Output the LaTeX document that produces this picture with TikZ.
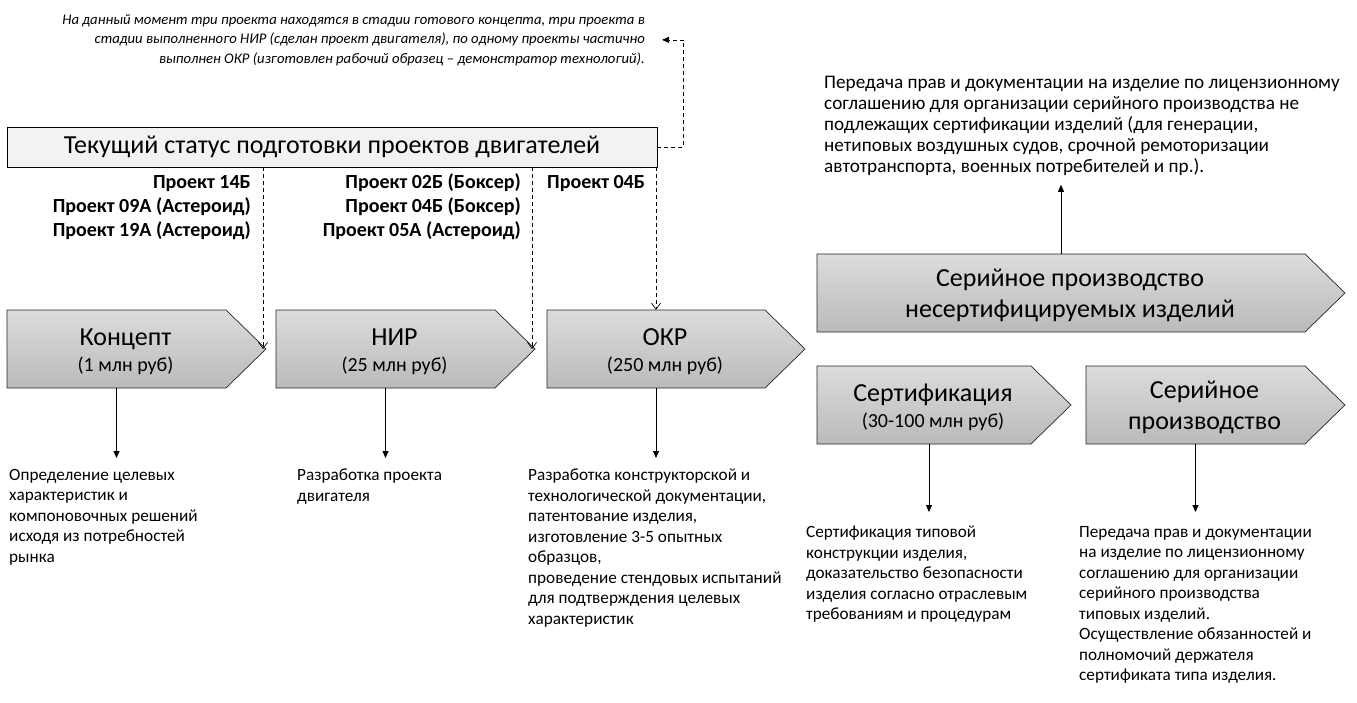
\documentclass[tikz,border=0pt]{standalone}
\usepackage{fontspec}
\setmainfont{Carlito}
\usetikzlibrary{arrows.meta}

\definecolor{stagetop}{RGB}{220,220,220}
\definecolor{stagebot}{RGB}{186,186,186}
\definecolor{statusfill}{RGB}{242,242,242}

\newcommand{\cost}[1]{{\fontsize{20}{22}\selectfont #1}}
\newcommand{\stagebox}[5]{%
  \draw[stage] (#2,#4) -- (#3,#4) -- ({#3+40},{#4+39}) -- ({#3},{#4+78}) -- ({#2},{#4+78}) -- cycle;
  \node[stagebody, minimum width={(#3-#2)*1pt}] (#1) at ({(#2+#3)/2},{#4+39}) {};
  \coordinate (#1-tip) at ({#3+40},{#4+39});
  \node[stagetext] (#1-t) at ([xshift=9pt, yshift=-2.5pt]#1.center) {#5};
}

\begin{document}
\begin{tikzpicture}[x=1pt, y=-1pt,
    stage/.style={draw=black!85, line width=0.7pt, top color=stagetop, bottom color=stagebot},
    stagebody/.style={inner sep=0pt, minimum height=78pt},
    stagetext/.style={align=center, inner sep=0pt, font=\fontsize{26}{31}\selectfont},
    desc/.style={align=left, inner sep=0pt, anchor=north west, font=\fontsize{17.2}{20.5}\selectfont},
    proj/.style={align=right, inner sep=0pt, font=\bfseries\fontsize{20}{24}\selectfont},
    down/.style={-{Triangle[width=6pt,length=7pt]}, line width=0.8pt, shorten >=11pt},
    dashline/.style={dashed, dash pattern=on 4pt off 3pt, line width=0.7pt},
    dasharrow/.style={dashline, -{Straight Barb[length=6pt,width=9pt]}}]
  \useasboundingbox (0,0) rectangle (1357,703);

  \node[align=right, inner sep=0pt, anchor=north east, font=\itshape\fontsize{14.7}{19.5}\selectfont] (note) at (645,14)
    {На данный момент три проекта находятся в стадии готового концепта, три проекта в\\
     стадии выполненного НИР (сделан проект двигателя), по одному проекты частично\\
     выполнен ОКР (изготовлен рабочий образец -- демонстратор технологий).};

  \node[draw=black, line width=0.8pt, fill=statusfill, minimum width=650pt, minimum height=40pt,
        font=\fontsize{26}{30}\selectfont] (status) at (332,147) {Текущий статус подготовки проектов двигателей};
  \draw[dashline, -{Triangle[width=6pt,length=7pt]}] (status.east) -- ++(26,0) |- ([xshift=17pt]note.east);

  \node[proj, anchor=north east] (p1) at (251,175) {Проект 14Б\\Проект 09А (Астероид)\\Проект 19А (Астероид)};
  \node[proj, anchor=north east] (p2) at (521,173) {Проект 02Б (Боксер)\\Проект 04Б (Боксер)\\Проект 05А (Астероид)};
  \node[proj, anchor=north west] (p3) at (547,175) {Проект 04Б};

  \stagebox{konc}{7}{226}{310}{Концепт\\[-5pt]\cost{(1 млн руб)}}
  \stagebox{nir}{276}{495}{310}{НИР\\[-5pt]\cost{(25 млн руб)}}
  \stagebox{okr}{547}{765}{310}{ОКР\\[-5pt]\cost{(250 млн руб)}}
  \stagebox{sernc}{817}{1305}{254}{Серийное производство\\несертифицируемых изделий}
  \stagebox{cert}{817}{1031}{366}{Сертификация\\[-5pt]\cost{(30-100 млн руб)}}
  \stagebox{ser}{1086}{1305}{366}{Серийное\\производство}

  \draw[dasharrow] ([xshift=-3pt]konc-tip |- status.south) -- ([xshift=-3pt]konc-tip);
  \draw[dasharrow] ([xshift=-3pt]nir-tip |- status.south) -- ([xshift=-3pt]nir-tip);
  \draw[dasharrow] (okr.north |- status.south) -- (okr.north);

  \node[desc] (d1) at (9,469) {Определение целевых\\характеристик и\\компоновочных решений\\исходя из потребностей\\рынка};
  \node[desc] (d2) at (297,469) {Разработка проекта\\двигателя};
  \node[desc] (d3) at (528,469) {Разработка конструкторской и\\технологической документации,\\патентование изделия,\\изготовление 3-5 опытных\\образцов,\\проведение стендовых испытаний\\для подтверждения целевых\\характеристик};
  \node[desc] (d4) at (806,526) {Сертификация типовой\\конструкции изделия,\\доказательство безопасности\\изделия согласно отраслевым\\требованиям и процедурам};
  \node[desc] (d5) at (1079,526) {Передача прав и документации\\на изделие по лицензионному\\соглашению для организации\\серийного производства\\типовых изделий.\\Осуществление обязанностей и\\полномочий держателя\\сертификата типа изделия.};
  \node[desc, font=\fontsize{19.2}{21}\selectfont] (d6) at (824,76) {Передача прав и документации на изделие по лицензионному\\соглашению для организации серийного производства не\\подлежащих сертификации изделий (для генерации,\\нетиповых воздушных судов, срочной ремоторизации\\автотранспорта, военных потребителей и пр.).};

  \draw[down] (konc.south) -- (konc.south |- d1.north);
  \draw[down] (nir.south) -- (nir.south |- d2.north);
  \draw[down] (okr.south) -- (okr.south |- d3.north);
  \draw[down, shorten >=14pt] ([xshift=5pt]cert.south) -- ([xshift=5pt]cert.south |- d4.north);
  \draw[down, shorten >=14pt] (ser.south) -- (ser.south |- d5.north);
  \draw[down, shorten >=9pt] (sernc.north) -- (sernc.north |- d6.south);
\end{tikzpicture}
\end{document}
